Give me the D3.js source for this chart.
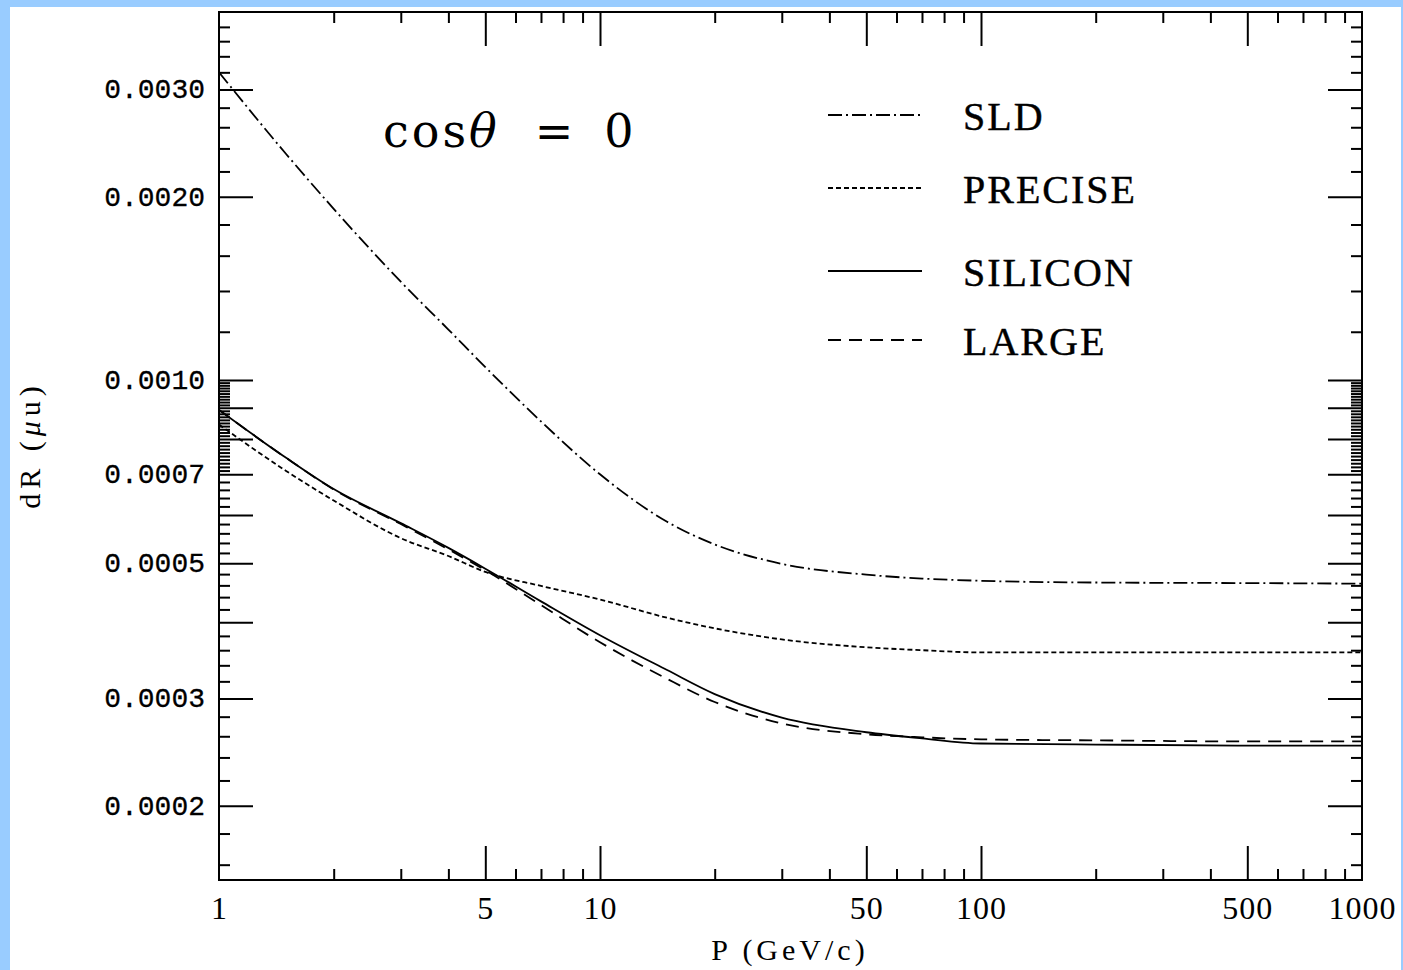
<!DOCTYPE html>
<html>
<head>
<meta charset="utf-8">
<script src="https://cdn.jsdelivr.net/npm/d3@7"></script>
<style>
  body { margin: 0; background: #99ccff; }
  svg { display: block; }
</style>
</head>
<body>
<div id="chart"></div>
<script>
// momentum grid (GeV/c) and dR values for each detector option
var momentum = [1, 1.5, 2, 3, 4, 5, 7, 10, 15, 20, 30, 50, 70, 100, 200, 500, 1000];
var sld     = [0.00320, 0.00235, 0.00191, 0.00145, 0.00121, 0.00105, 0.000855, 0.000700, 0.000585, 0.000537, 0.000499, 0.000479, 0.000472, 0.000468, 0.000465, 0.000464, 0.000463];
var precise = [0.000845, 0.000709, 0.000634, 0.000550, 0.000514, 0.000484, 0.000459, 0.000436, 0.000407, 0.000391, 0.000375, 0.000364, 0.000360, 0.000357, 0.000357, 0.000357, 0.000357];
var silicon = [0.000893, 0.000745, 0.000662, 0.000582, 0.000530, 0.000490, 0.000433, 0.000381, 0.000334, 0.000305, 0.000279, 0.000264, 0.000258, 0.000253, 0.000252, 0.000251, 0.000251];
var large   = [0.000893, 0.000745, 0.000661, 0.000580, 0.000527, 0.000487, 0.000427, 0.000371, 0.000323, 0.000296, 0.000273, 0.000262, 0.000259, 0.000257, 0.000256, 0.000255, 0.000255];

var seriesNames = ["SLD", "PRECISE", "SILICON", "LARGE"];

var xLabelTicks = [1, 5, 10, 50, 100, 500, 1000];
var xLongTicks = [5, 10, 50, 100, 500];
var yLabelTicks = [0.0002, 0.0003, 0.0005, 0.0007, 0.0010, 0.0020, 0.0030];
var yLongTicks = [0.0002, 0.0003, 0.0004, 0.0005, 0.0006, 0.0007, 0.0008, 0.0009, 0.0010, 0.0020, 0.0030];

var W = 1403, H = 970;
var margin = {top: 12, right: 41, bottom: 90, left: 219},
    width = W - margin.left - margin.right,
    height = H - margin.top - margin.bottom;

var x = d3.scaleLog().domain([1, 1000]).range([0, width]);
var y = d3.scaleLog().domain([0.000151, 0.00402]).range([height, 0]);

var svg = d3.select("#chart").append("svg")
    .attr("width", W)
    .attr("height", H);

// white page inside the blue frame
svg.append("rect")
    .attr("x", 10).attr("y", 7)
    .attr("width", W - 12).attr("height", H - 7)
    .attr("fill", "#fff");

var g = svg.append("g")
    .attr("transform", "translate(" + margin.left + "," + margin.top + ")");

// minor tick positions
var xMinor = x.ticks().filter(function(d) { return xLongTicks.indexOf(d) < 0 && d > 1 && d < 1000; });
var yMinor = d3.range(0.00016, 0.000699, 0.00002)
    .concat(d3.range(0.0007, 0.000999, 0.00001))
    .concat(d3.range(0.0012, 0.00399, 0.0002))
    .filter(function(v) {
        return !yLongTicks.some(function(t) { return Math.abs(t - v) < 1e-9; });
    });

function styleAxis(sel) {
    sel.select(".domain").remove();
    sel.selectAll(".tick line").attr("stroke", "#000").attr("stroke-width", 2);
    sel.selectAll(".tick text").remove();
}

// ticks on all four sides, pointing inward
[[d3.axisBottom, "translate(0," + height + ")", x, xMinor, xLongTicks],
 [d3.axisTop, "translate(0,0)", x, xMinor, xLongTicks],
 [d3.axisLeft, "translate(0,0)", y, yMinor, yLongTicks],
 [d3.axisRight, "translate(" + width + ",0)", y, yMinor, yLongTicks]].forEach(function(a) {
    g.append("g").attr("transform", a[1])
        .call(a[0](a[2]).tickValues(a[3]).tickSize(-11).tickFormat(""))
        .call(styleAxis);
    g.append("g").attr("transform", a[1])
        .call(a[0](a[2]).tickValues(a[4]).tickSize(-34).tickFormat(""))
        .call(styleAxis);
});

// tick labels
g.append("g")
    .attr("transform", "translate(0," + height + ")")
    .call(d3.axisBottom(x).tickValues(xLabelTicks).tickSize(0).tickPadding(16).tickFormat(d3.format("d")))
    .call(function(s) {
        s.select(".domain").remove();
        s.selectAll("text")
            .attr("fill", "#000")
            .style("font-family", "'Liberation Serif', serif")
            .style("font-size", "32px")
            .style("letter-spacing", "1px");
    });

g.append("g")
    .call(d3.axisLeft(y).tickValues(yLabelTicks).tickSize(0).tickPadding(14).tickFormat(d3.format(".4f")))
    .call(function(s) {
        s.select(".domain").remove();
        s.selectAll("text")
            .attr("fill", "#000")
            .attr("stroke", "#000")
            .attr("stroke-width", 0.3)
            .attr("dy", "0.3em")
            .style("font-family", "'Liberation Mono', monospace")
            .style("font-size", "28px");
    });

// frame
g.append("rect")
    .attr("width", width).attr("height", height)
    .attr("fill", "none").attr("stroke", "#000").attr("stroke-width", 2);

// curves
var styles = {
    "SLD":     {dash: "14,4,2,4", data: sld},
    "PRECISE": {dash: "5,3", data: precise},
    "SILICON": {dash: null, data: silicon},
    "LARGE":   {dash: "13,8", data: large}
};

g.append("clipPath").attr("id", "clip")
    .append("rect").attr("width", width).attr("height", height);

var line = d3.line()
    .x(function(d) { return x(d.p); })
    .y(function(d) { return y(d.v); })
    .curve(d3.curveMonotoneX);

seriesNames.forEach(function(name) {
    var pts = momentum.map(function(p, i) { return {p: p, v: styles[name].data[i]}; });
    g.append("path")
        .datum(pts)
        .attr("clip-path", "url(#clip)")
        .attr("fill", "none")
        .attr("stroke", "#000")
        .attr("stroke-width", 1.8)
        .attr("stroke-dasharray", styles[name].dash)
        .attr("d", line);
});

// legend
var legendY = [115, 188, 271, 340];
seriesNames.forEach(function(name, i) {
    svg.append("line")
        .attr("x1", 828).attr("x2", 922)
        .attr("y1", legendY[i]).attr("y2", legendY[i])
        .attr("stroke", "#000").attr("stroke-width", 1.8)
        .attr("stroke-dasharray", styles[name].dash);
    svg.append("text")
        .attr("x", 963).attr("y", legendY[i] + 15)
        .attr("stroke", "#000").attr("stroke-width", 0.4)
        .style("font-family", "'Liberation Serif', serif")
        .style("font-size", "40px")
        .style("letter-spacing", "2px")
        .text(name);
});

// cos(theta) = 0 annotation
var ann = svg.append("g")
    .style("font-family", "'DejaVu Serif', serif")
    .style("font-size", "46px");
var t1 = ann.append("text").attr("x", 383).attr("y", 147).style("letter-spacing", "3px");
t1.append("tspan").text("cos");
t1.append("tspan").style("font-style", "italic").text("θ");
ann.append("text").attr("x", 554).attr("y", 147).attr("text-anchor", "middle").text("=");
ann.append("text").attr("x", 619).attr("y", 147).attr("text-anchor", "middle").text("0");

// axis titles
svg.append("text")
    .attr("x", 790).attr("y", 960)
    .attr("text-anchor", "middle")
    .style("font-family", "'Liberation Serif', serif")
    .style("font-size", "30px")
    .style("letter-spacing", "4px")
    .text("P (GeV/c)");

var yt = svg.append("text")
    .attr("transform", "translate(40,445) rotate(-90)")
    .attr("text-anchor", "middle")
    .style("font-family", "'Liberation Serif', serif")
    .style("font-size", "30px")
    .style("letter-spacing", "5px");
yt.append("tspan").text("dR (");
yt.append("tspan").style("font-style", "italic").text("μ");
yt.append("tspan").text("u)");
</script>
</body>
</html>
